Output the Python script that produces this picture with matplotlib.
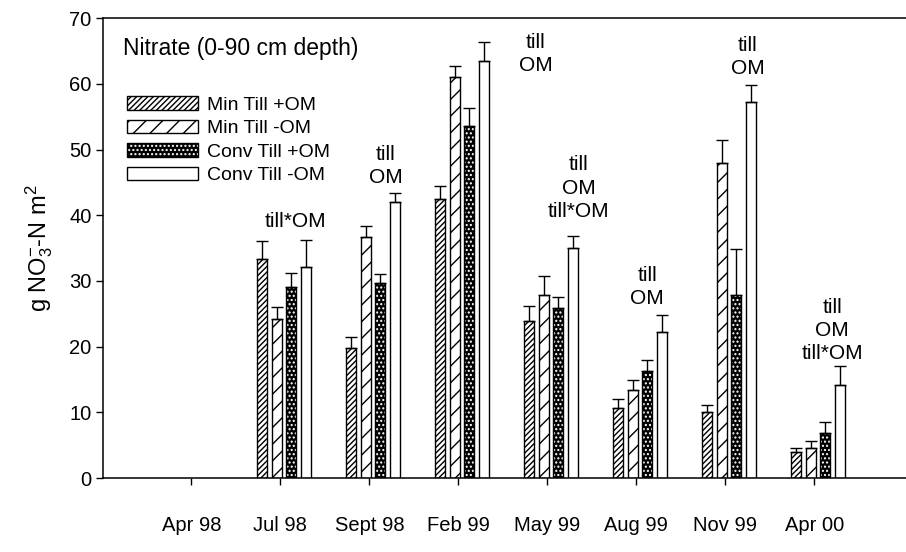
import matplotlib
matplotlib.use("Agg")
import matplotlib.pyplot as plt
import numpy as np
from matplotlib.patches import Patch
from matplotlib.legend_handler import HandlerTuple

plt.rcParams['font.family'] = ['Liberation Sans', 'DejaVu Sans']
plt.rcParams['mathtext.fontset'] = 'custom'
plt.rcParams['mathtext.rm'] = 'Liberation Sans'
plt.rcParams['mathtext.it'] = 'Liberation Sans'
plt.rcParams['hatch.linewidth'] = 1.0

dates = ['Apr 98', 'Jul 98', 'Sept 98', 'Feb 99', 'May 99', 'Aug 99', 'Nov 99', 'Apr 00']
series = ['Min Till +OM', 'Min Till -OM', 'Conv Till +OM', 'Conv Till -OM']

# Apr 98 has no data
min_om = [np.nan, 33.4, 19.8, 42.5, 23.9, 10.7, 10.1, 4.0]
min_om_err = [0, 2.7, 1.7, 2.0, 2.3, 1.3, 1.0, 0.6]
min_noom = [np.nan, 24.2, 36.7, 61.1, 27.9, 13.4, 48.0, 4.5]
min_noom_err = [0, 1.9, 1.7, 1.6, 2.8, 1.6, 3.5, 1.2]
conv_om = [np.nan, 29.1, 29.7, 53.6, 25.9, 16.3, 27.9, 6.8]
conv_om_err = [0, 2.1, 1.4, 2.7, 1.7, 1.7, 6.9, 1.7]
conv_noom = [np.nan, 32.1, 42.0, 63.5, 35.0, 22.3, 57.2, 14.2]
conv_noom_err = [0, 4.2, 1.4, 2.9, 1.8, 2.5, 2.6, 2.8]

# significance labels: (x, y, text)
notes = [
    (1.17, 39.0, 'till*OM'),
    (2.18, 49.3, 'till'), (2.18, 45.7, 'OM'),
    (3.87, 66.3, 'till'), (3.87, 62.8, 'OM'),
    (4.35, 47.7, 'till'), (4.35, 44.1, 'OM'), (4.35, 40.6, 'till*OM'),
    (5.12, 30.9, 'till'), (5.12, 27.4, 'OM'),
    (6.25, 65.8, 'till'), (6.25, 62.3, 'OM'),
    (7.20, 25.9, 'till'), (7.20, 22.4, 'OM'), (7.20, 18.9, 'till*OM'),
]

fig = plt.figure(figsize=(9.06, 5.52), dpi=100)
ax = fig.add_axes([0.114, 0.134, 0.886, 0.833])

x = np.arange(len(dates)) + 0.04
w = 0.115
step = 0.163
ekw = dict(elinewidth=1.0, capthick=1.0)

vals = [min_om, min_noom, conv_om, conv_noom]
errs = [min_om_err, min_noom_err, conv_om_err, conv_noom_err]
styles = [
    dict(facecolor='white', edgecolor='black', hatch='//////'),
    dict(facecolor='white', edgecolor='black', hatch='//'),
    None,
    dict(facecolor='white', edgecolor='black'),
]

for i, (v, e, st) in enumerate(zip(vals, errs, styles)):
    pos = x + (i - 1.5) * step
    yerr = [np.zeros(len(e)), e]
    if st is None:
        # dark bar with light dots
        ax.bar(pos, v, w, facecolor='black', edgecolor='white', hatch='....', linewidth=0, zorder=2)
        ax.bar(pos, v, w, facecolor='none', edgecolor='black', linewidth=1.0, zorder=3,
               yerr=yerr, capsize=4, error_kw=ekw, ecolor='black')
    else:
        ax.bar(pos, v, w, linewidth=1.0, zorder=2, yerr=yerr, capsize=4,
               error_kw=ekw, ecolor='black', **st)

for tx, ty, s in notes:
    ax.text(tx, ty, s, ha='center', va='center', fontsize=15)

ax.text(0.025, 0.935, 'Nitrate (0-90 cm depth)', transform=ax.transAxes,
        fontsize=16.5, va='center', ha='left')

handles = [
    Patch(facecolor='white', edgecolor='black', hatch='//////'),
    Patch(facecolor='white', edgecolor='black', hatch='//'),
    (Patch(facecolor='black', edgecolor='white', hatch='....', linewidth=0),
     Patch(facecolor='none', edgecolor='black')),
    Patch(facecolor='white', edgecolor='black'),
]
ax.legend(handles, series, loc='upper left', bbox_to_anchor=(0.012, 0.86),
          frameon=False, fontsize=14, handlelength=3.7, handleheight=0.7,
          labelspacing=0.3, handletextpad=0.45, borderpad=0.2,
          handler_map={tuple: HandlerTuple(ndivide=1, pad=0)})

ax.set_xlim(-0.99, 8.03)
ax.set_ylim(0, 70)
ax.set_xticks(np.arange(len(dates)))
ax.set_xticklabels(dates)
ax.set_yticks(np.arange(0, 71, 10))
ax.tick_params(axis='both', direction='out', length=5, width=1, labelsize=14.5)
ax.tick_params(axis='x', pad=22)
ax.set_ylabel('g NO$_3^{-}$-N m$^2$', fontsize=17, labelpad=10)
ax.spines['right'].set_visible(False)
for s in ax.spines.values():
    s.set_linewidth(1.1)

fig.savefig('out.png', dpi=100)
